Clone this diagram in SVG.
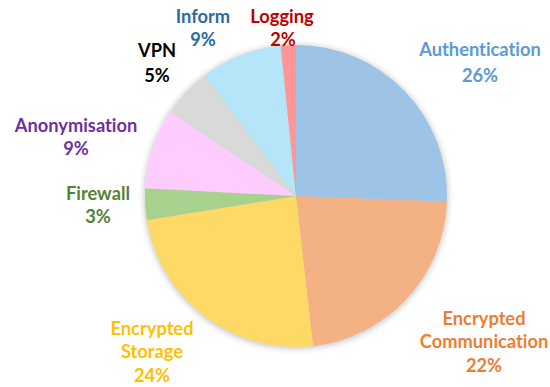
<svg xmlns="http://www.w3.org/2000/svg" width="550" height="387" viewBox="0 0 550 387">
  <defs>
    <filter id="shadow" x="-20%" y="-20%" width="140%" height="140%">
      <feGaussianBlur stdDeviation="3"/>
    </filter>
    <style>
      .lbl { font-family: Lato, "Open Sans", "Liberation Sans", sans-serif; font-weight: bold; font-size: 18.3px; text-anchor: middle; font-variant-ligatures: none; font-feature-settings: "liga" 0, "dlig" 0; }
      .slice { stroke: none; }
    </style>
  </defs>
  <rect width="550" height="387" fill="#ffffff"/>
  <circle cx="296" cy="197" r="152" fill="#000000" opacity="0.22" filter="url(#shadow)"/>
  <g id="pie">
    <g id="slice-authentication"><path class="slice" fill="#9DC3E6" d="M296,196 L296,45 A151,151 0 0 1 446.89,201.80 Z"/></g>
    <g id="slice-encrypted-communication"><path class="slice" fill="#F4B183" d="M296,196 L446.89,201.80 A151,151 0 0 1 313.09,346.03 Z"/></g>
    <g id="slice-encrypted-storage"><path class="slice" fill="#FFD966" d="M296,196 L313.09,346.03 A151,151 0 0 1 146.92,220.01 Z"/></g>
    <g id="slice-firewall"><path class="slice" fill="#A9D18E" d="M296,196 L146.92,220.01 A151,151 0 0 1 145.19,188.36 Z"/></g>
    <g id="slice-anonymisation"><path class="slice" fill="#FFCCFF" d="M296,196 L145.19,188.36 A151,151 0 0 1 170.57,111.93 Z"/></g>
    <g id="slice-vpn"><path class="slice" fill="#D9D9D9" d="M296,196 L170.57,111.93 A151,151 0 0 1 204.71,75.72 Z"/></g>
    <g id="slice-inform"><path class="slice" fill="#B4E5F9" d="M296,196 L204.71,75.72 A151,151 0 0 1 280.74,45.77 Z"/></g>
    <g id="slice-logging"><path class="slice" fill="#FF9595" d="M296,196 L280.74,45.77 A151,151 0 0 1 296,45 Z"/></g>
  </g>
  <g id="labels">
    <g id="label-authentication" fill="#5B9BD5"><text class="lbl" x="480" y="56">Authentication</text><text class="lbl" x="480" y="82">26%</text></g>
    <g id="label-encrypted-communication" fill="#ED7D31"><text class="lbl" x="484" y="325">Encrypted</text><text class="lbl" x="484" y="348">Communication</text><text class="lbl" x="484" y="372">22%</text></g>
    <g id="label-encrypted-storage" fill="#FFC000"><text class="lbl" x="152" y="335">Encrypted</text><text class="lbl" x="152" y="358">Storage</text><text class="lbl" x="152" y="382">24%</text></g>
    <g id="label-firewall" fill="#548235"><text class="lbl" x="98" y="200">Firewall</text><text class="lbl" x="98" y="223">3%</text></g>
    <g id="label-anonymisation" fill="#7030A0"><text class="lbl" x="76" y="132">Anonymisation</text><text class="lbl" x="76" y="155">9%</text></g>
    <g id="label-vpn" fill="#000000"><text class="lbl" x="157" y="57">VPN</text><text class="lbl" x="157" y="82">5%</text></g>
    <g id="label-inform" fill="#2E6AA0"><text class="lbl" x="203" y="23">Inform</text><text class="lbl" x="203" y="46">9%</text></g>
    <g id="label-logging" fill="#C00000"><text class="lbl" x="282" y="23">Logging</text><text class="lbl" x="283" y="46">2%</text></g>
  </g>
</svg>
